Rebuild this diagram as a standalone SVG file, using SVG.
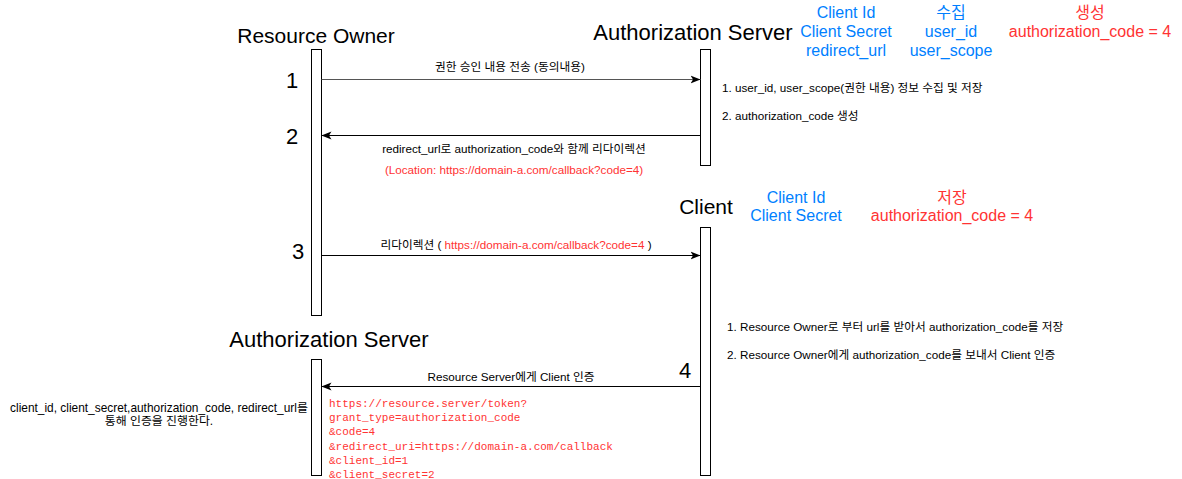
<svg xmlns="http://www.w3.org/2000/svg" width="1182" height="479" viewBox="0 0 1182 479">
<defs>
<style>
text{font-family:"Liberation Sans","Noto Sans CJK KR",sans-serif;fill:#000}
.title{font-size:21px;text-anchor:middle}
.title2{font-size:22px;text-anchor:middle}
.num{font-size:22px;text-anchor:middle}
.blue{font-size:16px;fill:#007FFF;text-anchor:middle}
.red{font-size:16px;fill:#FF3333;text-anchor:middle}
.lbl{font-size:11.7px;text-anchor:middle}
.side{font-size:11.9px;text-anchor:middle}
.note{font-size:11.7px}
.mono{font-family:"Liberation Mono","DejaVu Sans Mono",monospace;font-size:11px;fill:#FF3333}
.life{fill:#fff;stroke:#000;stroke-width:1}
.conn{stroke:#000;stroke-width:1;fill:none}
</style>
<marker id="ah" viewBox="0 0 10 10" refX="10" refY="5" markerWidth="10" markerHeight="10" markerUnits="userSpaceOnUse" orient="auto">
<path d="M0,1 L10,5 L0,9 L2.5,5 Z" fill="#000"/>
</marker>
</defs>
<rect width="1182" height="479" fill="#fff"/>

<g id="resource-owner">
<text class="title" x="316" y="43">Resource Owner</text>
<rect class="life" x="311.5" y="49.5" width="10" height="266"/>
</g>

<g id="auth-server-top">
<text class="title2" x="693" y="40">Authorization Server</text>
<rect class="life" x="700.5" y="49.5" width="10" height="116"/>
<text class="note" x="722" y="92">1. user_id, user_scope(권한 내용) 정보 수집 및 저장</text>
<text class="note" x="722" y="120">2. authorization_code 생성</text>
</g>

<g id="as-info">
<text class="blue" x="846" y="18">Client Id</text>
<text class="blue" x="846" y="37">Client Secret</text>
<text class="blue" x="846" y="56">redirect_url</text>
<text class="blue" x="951" y="18">수집</text>
<text class="blue" x="951" y="37">user_id</text>
<text class="blue" x="951" y="56">user_scope</text>
<text class="red" x="1090" y="18">생성</text>
<text class="red" x="1090" y="37">authorization_code = 4</text>
</g>

<g id="client">
<text class="title" x="706" y="214">Client</text>
<rect class="life" x="700.5" y="227.5" width="10" height="248"/>
<text class="note" x="727" y="331">1. Resource Owner로 부터 url를 받아서 authorization_code를 저장</text>
<text class="note" x="727" y="359">2. Resource Owner에게 authorization_code를 보내서 Client 인증</text>
</g>

<g id="client-info">
<text class="blue" x="796" y="203">Client Id</text>
<text class="blue" x="796" y="221">Client Secret</text>
<text class="red" x="952" y="203">저장</text>
<text class="red" x="952" y="221">authorization_code = 4</text>
</g>

<g id="auth-server-bottom">
<text class="title2" x="329" y="347">Authorization Server</text>
<rect class="life" x="311.5" y="359.5" width="10" height="116"/>
<text class="side" x="159" y="412">client_id, client_secret,authorization_code, redirect_url를</text>
<text class="side" x="159" y="425">통해 인증을 진행한다.</text>
</g>

<g id="step-numbers">
<text class="num" x="292" y="88">1</text>
<text class="num" x="292" y="144">2</text>
<text class="num" x="298" y="259">3</text>
<text class="num" x="685" y="378">4</text>
</g>

<g id="connectors">
<line class="conn" x1="321.5" y1="79.5" x2="700.5" y2="79.5" style="stroke:#555" marker-end="url(#ah)"/>
<line class="conn" x1="700.5" y1="135.5" x2="321.5" y2="135.5" marker-end="url(#ah)"/>
<line class="conn" x1="321.5" y1="255.5" x2="700.5" y2="255.5" marker-end="url(#ah)"/>
<line class="conn" x1="700.5" y1="386.5" x2="321.5" y2="386.5" marker-end="url(#ah)"/>
<text class="lbl" x="510" y="71">권한 승인 내용 전송 (동의내용)</text>
<text class="lbl" x="514" y="153">redirect_url로 authorization_code와 함께 리다이렉션</text>
<text class="lbl" x="514" y="174" style="fill:#FF3333">(Location: https://domain-a.com/callback?code=4)</text>
<text class="lbl" x="516" y="249">리다이렉션 ( <tspan style="fill:#FF3333">https://domain-a.com/callback?code=4</tspan> )</text>
<text class="lbl" x="511" y="381">Resource Server에게 Client 인증</text>
<text class="mono" x="329" y="407">https://resource.server/token?</text>
<text class="mono" x="329" y="421">grant_type=authorization_code</text>
<text class="mono" x="329" y="435">&amp;code=4</text>
<text class="mono" x="329" y="450">&amp;redirect_uri=https://domain-a.com/callback</text>
<text class="mono" x="329" y="464">&amp;client_id=1</text>
<text class="mono" x="329" y="478">&amp;client_secret=2</text>
</g>
</svg>
